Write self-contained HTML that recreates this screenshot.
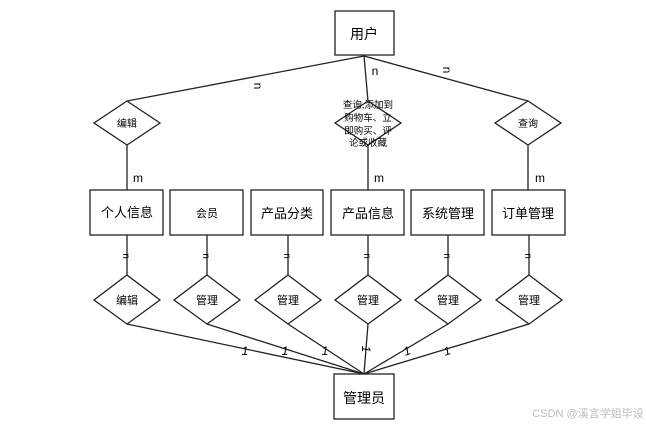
<html><body style="margin:0;background:#fff">
<svg width="646" height="427" xmlns="http://www.w3.org/2000/svg" style="font-family:'Liberation Sans','Noto Sans CJK SC',sans-serif">
<g stroke="#222" stroke-width="1.3" fill="none">
<rect x="335" y="11" width="59" height="44" fill="#fff"/>
<rect x="334" y="374" width="60" height="45" fill="#fff"/>
<line x1="364" y1="56" x2="127" y2="101"/>
<line x1="364" y1="56" x2="368" y2="101"/>
<line x1="364" y1="56" x2="528" y2="101"/>
<polygon points="127,101 160,123 127,145 94,123" fill="#fff"/>
<polygon points="368,101 401,123 368,145 335,123" fill="#fff"/>
<polygon points="528,101 561,123 528,145 495,123" fill="#fff"/>
<line x1="127" y1="145" x2="127" y2="190"/>
<line x1="368" y1="145" x2="368" y2="190"/>
<line x1="528" y1="145" x2="528" y2="190"/>
<rect x="90" y="190" width="73" height="45"/>
<rect x="170" y="190" width="73" height="45"/>
<rect x="251" y="190" width="72" height="45"/>
<rect x="331" y="190" width="73" height="45"/>
<rect x="411" y="190" width="73" height="45"/>
<rect x="492" y="190" width="73" height="45"/>
<g>
<line x1="127" y1="235" x2="127" y2="275"/><line x1="207" y1="235" x2="207" y2="275"/><line x1="288" y1="235" x2="288" y2="275"/><line x1="368" y1="235" x2="368" y2="275"/><line x1="448" y1="235" x2="448" y2="275"/><line x1="529" y1="235" x2="529" y2="275"/>
</g>
<polygon points="127,275 160,300 127,324 94,300" fill="#fff"/>
<polygon points="207,275 240,300 207,324 174,300" fill="#fff"/>
<polygon points="288,275 321,300 288,324 255,300" fill="#fff"/>
<polygon points="368,275 401,300 368,324 335,300" fill="#fff"/>
<polygon points="448,275 481,300 448,324 415,300" fill="#fff"/>
<polygon points="529,275 562,300 529,324 496,300" fill="#fff"/>
<line x1="127" y1="324" x2="364" y2="374"/>
<line x1="207" y1="324" x2="364" y2="374"/>
<line x1="288" y1="324" x2="364" y2="374"/>
<line x1="368" y1="324" x2="364" y2="374"/>
<line x1="448" y1="324" x2="364" y2="374"/>
<line x1="529" y1="324" x2="364" y2="374"/>
</g>
<g fill="#000" text-anchor="middle">
<text x="364" y="39" font-size="14">用户</text>
<text x="364" y="403" font-size="14">管理员</text>
<text x="127" y="127" font-size="10">编辑</text>
<text x="528" y="127" font-size="10">查询</text>
<g font-size="9.5"><text x="368" y="108">查询,添加到</text><text x="368" y="121">购物车、立</text><text x="368" y="134">即购买、评</text><text x="368" y="146">论或收藏</text></g>
<g font-size="13"><text x="127" y="217">个人信息</text><text x="207" y="217" font-size="11">会员</text><text x="287" y="218">产品分类</text><text x="368" y="218">产品信息</text><text x="448" y="218">系统管理</text><text x="528" y="218">订单管理</text></g>
<g font-size="11"><text x="127" y="304">编辑</text><text x="207" y="304">管理</text><text x="288" y="304">管理</text><text x="368" y="304">管理</text><text x="448" y="304">管理</text><text x="529" y="304">管理</text></g>
<g font-size="12"><text x="138" y="182">m</text><text x="379" y="182">m</text><text x="540" y="182">m</text><text x="375" y="75">n</text>
<text x="254" y="86" transform="rotate(90 254 86)">n</text><text x="443" y="70" transform="rotate(90 443 70)">n</text>
<g font-style="italic"><text x="245" y="355">1</text><text x="285" y="355">1</text><text x="325" y="355">1</text><text x="366" y="353" transform="rotate(90 366 349)">1</text><text x="407" y="355" transform="rotate(-20 407 351)">1</text><text x="447" y="355" transform="rotate(-20 447 351)">1</text></g>
</g>
<g font-size="10"><text x="127" y="260" transform="rotate(90 127 256)">n</text><text x="207" y="260" transform="rotate(90 207 256)">n</text><text x="288" y="260" transform="rotate(90 288 256)">n</text><text x="368" y="260" transform="rotate(90 368 256)">n</text><text x="448" y="260" transform="rotate(90 448 256)">n</text><text x="529" y="260" transform="rotate(90 529 256)">n</text></g>
<text x="588" y="417" font-size="11" fill="#bbb">CSDN @溪言学姐毕设</text>
</g>
</svg>
</body></html>
